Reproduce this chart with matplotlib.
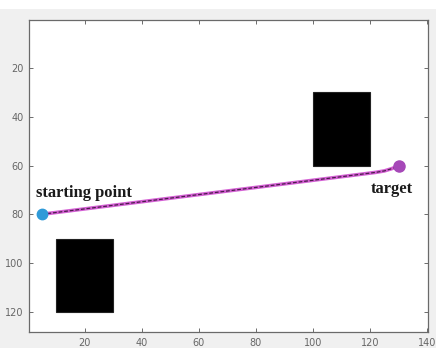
import matplotlib
matplotlib.use("Agg")
import matplotlib.pyplot as plt
from matplotlib.patches import Rectangle

# obstacles: (x, y, width, height) in map units
obstacles = [(10, 90, 20, 30), (100, 30, 20, 30)]

# planned path from start to target
path_x = [5, 118, 122, 125, 127.5, 129, 130]
path_y = [80, 63.4, 62.8, 62.2, 61.3, 60.6, 60]

start = (5, 80)
target = (130, 60)

xticks = [20, 40, 60, 80, 100, 120, 140]
yticks = [20, 40, 60, 80, 100, 120]

fig = plt.figure(figsize=(4.36, 3.48), dpi=100, facecolor="#f0f0f0")
# white strip along the top of the window
fig.patches.append(Rectangle((0, 0.974), 1, 0.026, transform=fig.transFigure,
                             facecolor="white", edgecolor="none", zorder=0))
ax = fig.add_axes([0.0665, 0.046, 0.9155, 0.8965])

for ox, oy, w, h in obstacles:
    ax.add_patch(Rectangle((ox, oy), w, h, facecolor="black", edgecolor="#222222",
                           linewidth=0.8))

ax.plot(path_x, path_y, color="#d35fd3", linewidth=2.6, solid_capstyle="round", zorder=3)
ax.plot(path_x, path_y, color="#4a1d4a", linewidth=0.9, linestyle=(0, (3, 1.5)), zorder=4)
ax.plot(*start, "o", color="#2f9ad8", markersize=7.5, zorder=5)
ax.plot(*target, "o", color="#a648b8", markersize=8, zorder=5)

ax.text(3, 71.3, "starting point", family="Liberation Serif", fontweight="bold",
        fontsize=12, va="center", ha="left", color="#1a1a1a")
ax.text(120.2, 69.8, "target", family="Liberation Serif", fontweight="bold",
        fontsize=12, va="center", ha="left", color="#1a1a1a")

ax.set_xlim(0.5, 140.3)
ax.set_ylim(128.3, 0.3)
ax.set_xticks(xticks)
ax.set_yticks(yticks)
ax.tick_params(direction="in", length=3, width=0.6, top=True, right=True,
               labelsize=7, colors="#555555", labelcolor="#666666", pad=4)
for s in ax.spines.values():
    s.set_color("#6a6a6a")
    s.set_linewidth(0.9)

fig.savefig("out.png", dpi=100, facecolor=fig.get_facecolor())
